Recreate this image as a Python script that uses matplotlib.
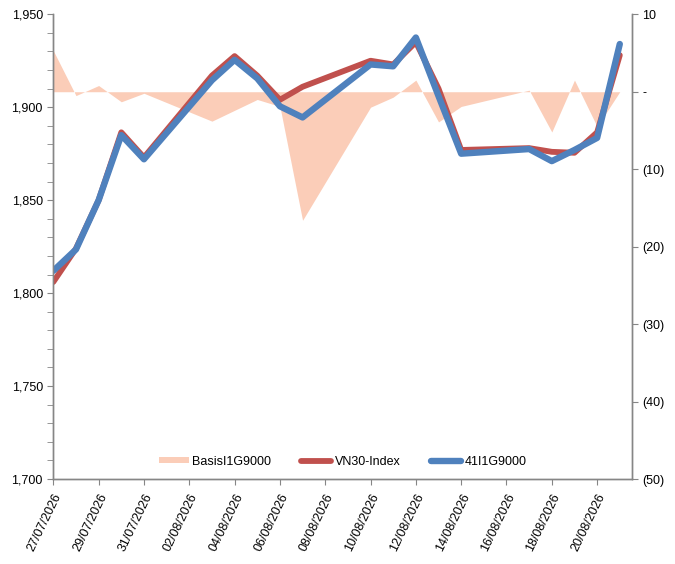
import numpy as np
import pandas as pd
import matplotlib
matplotlib.use('Agg')
import matplotlib.pyplot as plt
import matplotlib.dates as mdates
import matplotlib.ticker as mticker
from matplotlib.patches import Patch
from matplotlib.lines import Line2D

plt.rcParams['font.family'] = ['Liberation Sans', 'DejaVu Sans']

# %% data
dates = pd.to_datetime([
    '2026-07-27', '2026-07-28', '2026-07-29', '2026-07-30', '2026-07-31',
    '2026-08-03', '2026-08-04', '2026-08-05', '2026-08-06', '2026-08-07',
    '2026-08-10', '2026-08-11', '2026-08-12', '2026-08-13', '2026-08-14',
    '2026-08-17', '2026-08-18', '2026-08-19', '2026-08-20', '2026-08-21',
])
vn30 = [1806, 1824, 1850, 1886.5, 1873,
        1917, 1927.5, 1917, 1904, 1911,
        1925, 1923, 1935, 1910, 1877,
        1878, 1876, 1875.5, 1886.5, 1928]
fut = [1812, 1823.5, 1850, 1885, 1872,
       1914.5, 1925.5, 1915.5, 1900.5, 1894.5,
       1923, 1922, 1937.5, 1906, 1875,
       1877.5, 1871, 1877, 1883.5, 1934]
basis = [5.3, -0.5, 0.8, -1.3, -0.2,
         -3.8, -2.4, -1.0, -1.9, -16.6,
         -2.0, -0.7, 1.5, -3.9, -1.9,
         0.2, -5.2, 1.5, -4.5, 0.0]

# %% plot
fig = plt.figure(figsize=(6.75, 5.64), dpi=100)
ax = fig.add_axes([0.079, 0.1507, 0.857, 0.824])
ax2 = ax.twinx()

fill_c = '#FBCDB8'
red = '#C0504D'
blue = '#4F81BD'
spine_c = '#868686'

ax2.fill_between(dates, basis, 0, color=fill_c, linewidth=0)
ax.plot(dates, vn30, color=red, lw=4.2, solid_joinstyle='round', solid_capstyle='round')
ax.plot(dates, fut, color=blue, lw=4.6, solid_joinstyle='round', solid_capstyle='round')

ax.set_zorder(ax2.get_zorder() + 1)
ax.patch.set_visible(False)

ax.set_ylim(1700, 1950)
ax2.set_ylim(-50, 10)
start = mdates.date2num(pd.Timestamp('2026-07-27'))
ax.set_xlim(start, start + 25.53)

ax.yaxis.set_major_locator(mticker.MultipleLocator(50))
ax.yaxis.set_minor_locator(mticker.MultipleLocator(10))
ax.yaxis.set_major_formatter(mticker.FuncFormatter(lambda v, p: f'{v:,.0f}'))

def acct(v, p):
    if abs(v) < 1e-9:
        return '-'
    if v < 0:
        return f'({-v:.0f})'
    return f'{v:.0f}'

ax2.yaxis.set_major_locator(mticker.MultipleLocator(10))
ax2.yaxis.set_major_formatter(mticker.FuncFormatter(acct))

ax.set_xticks([start + 2 * i for i in range(13)])
ax.xaxis.set_major_formatter(mdates.DateFormatter('%d/%m/%Y'))

for a in (ax, ax2):
    for s in a.spines.values():
        s.set_color(spine_c)
        s.set_linewidth(1.0)
    a.spines['top'].set_visible(False)
    a.tick_params(axis='both', which='both', colors=spine_c, labelcolor='black',
                  labelsize=9, direction='out', length=4)
ax.tick_params(axis='x', pad=5)
plt.setp(ax.get_xticklabels(), rotation=64, ha='right', rotation_mode='anchor')

handles = [Patch(facecolor=fill_c, edgecolor='none'),
           Line2D([], [], color=red, lw=4.2, solid_capstyle='round'),
           Line2D([], [], color=blue, lw=4.6, solid_capstyle='round')]
labels = ['BasisI1G9000', 'VN30-Index', '41I1G9000']
ax.legend(handles, labels, loc='lower center', bbox_to_anchor=(0.5, 0.0), ncol=3,
          frameon=False, fontsize=9, handlelength=2.4, handleheight=0.4,
          handletextpad=0.3, columnspacing=2.4)

fig.savefig('out.png', dpi=100)
